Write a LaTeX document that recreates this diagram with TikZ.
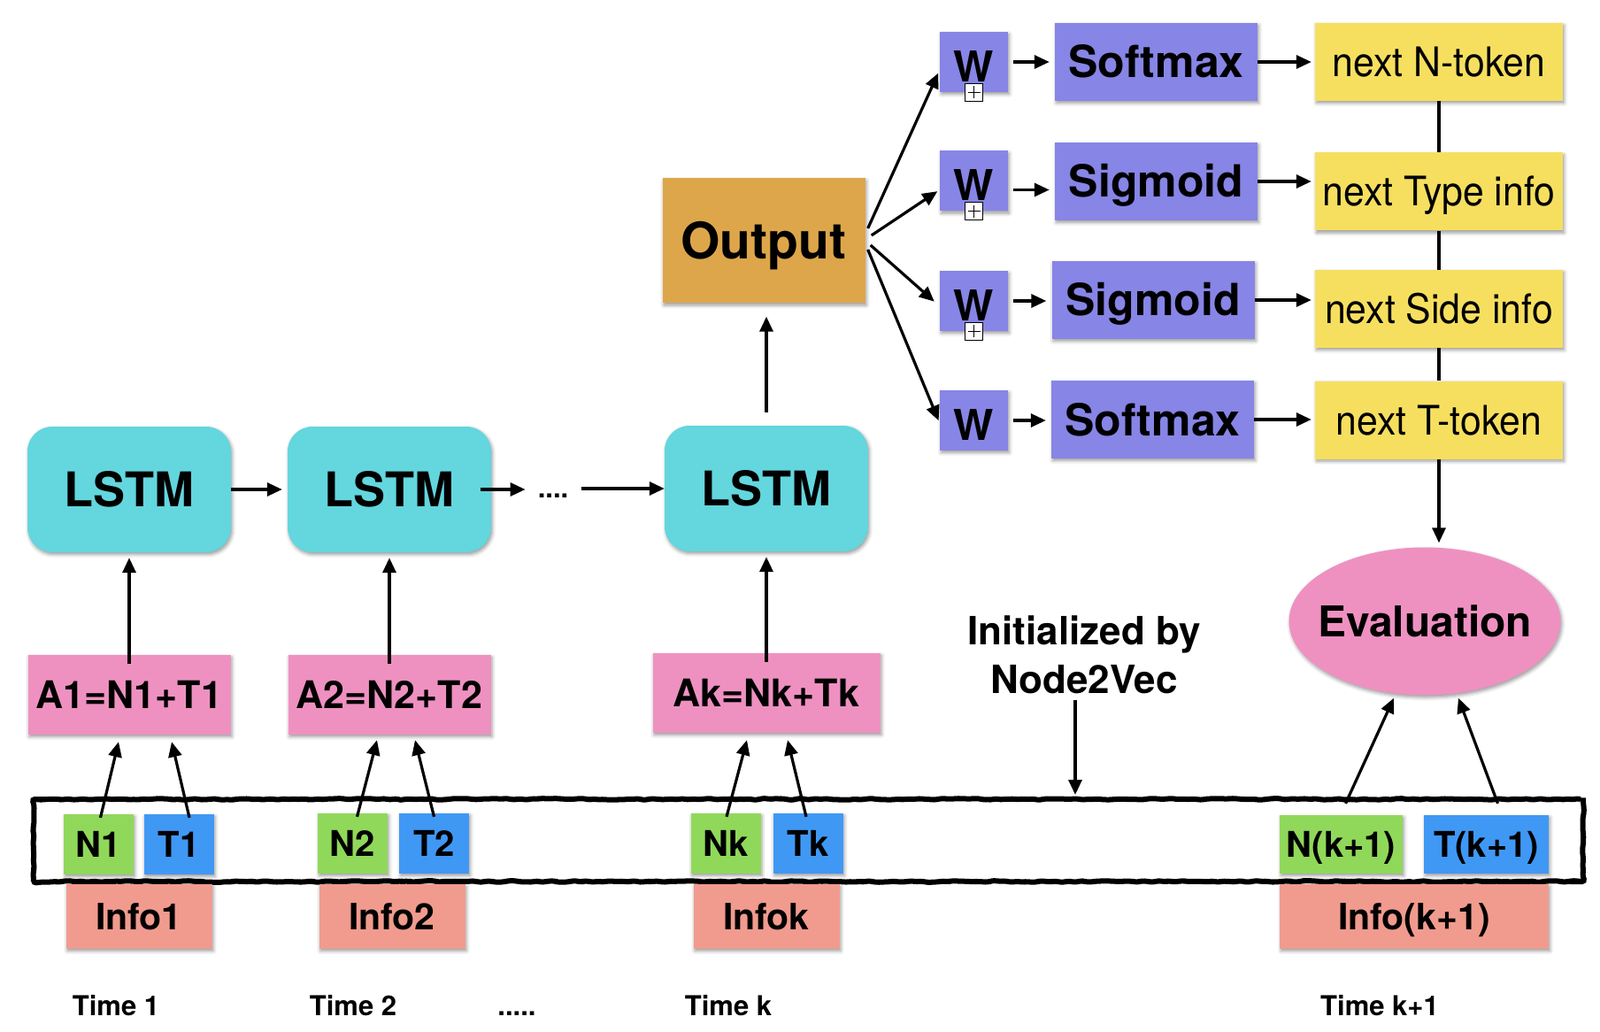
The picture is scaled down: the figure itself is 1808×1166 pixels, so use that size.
\documentclass[tikz,border=0pt]{standalone}
\usepackage{fontspec}
\setmainfont{TeX Gyre Heros}
\newfontfamily\nextfont[FakeStretch=0.93]{TeX Gyre Heros}
\usetikzlibrary{arrows.meta,shapes.geometric,shadows.blur,decorations.pathmorphing}

\definecolor{lstmcyan}{RGB}{99,214,222}
\definecolor{outorange}{RGB}{222,166,75}
\definecolor{actpurple}{RGB}{135,133,230}
\definecolor{nextyellow}{RGB}{246,223,95}
\definecolor{sumpink}{RGB}{238,145,193}
\definecolor{ngreen}{RGB}{144,216,90}
\definecolor{tblue}{RGB}{64,152,245}
\definecolor{infosalmon}{RGB}{240,155,142}

\newcommand\fsz[1]{\fontsize{#1}{#1}\selectfont}

\begin{document}
\begin{tikzpicture}[x=1pt,y=1pt,
  box/.style={inner sep=0pt, text depth=0pt,
    blur shadow={shadow xshift=1.5pt, shadow yshift=-2.5pt, shadow blur radius=4pt, shadow opacity=40}},
  lstm/.style={box, fill=lstmcyan, rounded corners=28pt, minimum width=230pt, minimum height=142pt, text height=39pt, font=\fsz{54}\bfseries},
  outbox/.style={box, fill=outorange, minimum width=229pt, minimum height=141pt, text height=41pt, font=\fsz{57}\bfseries},
  sumbox/.style={box, fill=sumpink, minimum width=229pt, minimum height=90pt, text height=31pt, font=\fsz{43}\bfseries},
  wbox/.style={box, fill=actpurple, minimum width=77pt, minimum height=68pt, text height=44.5pt, font=\fsz{48}\bfseries},
  actbox/.style={box, fill=actpurple, minimum width=229pt, minimum height=88pt, text height=36pt, font=\fsz{50}\bfseries},
  nextbox/.style={box, fill=nextyellow, minimum width=280pt, minimum height=88pt, text height=33pt, font=\nextfont\fsz{46}},
  tok/.style={box, minimum width=79pt, minimum height=68pt, text height=29pt, font=\fsz{40}\bfseries},
  infobox/.style={box, fill=infosalmon, minimum width=165pt, minimum height=73pt, text height=29.5pt, font=\fsz{41}\bfseries},
  plusbox/.style={draw, fill=white, line width=1.2pt, minimum size=20pt, inner sep=0pt,
    path picture={
      \draw[line width=1.2pt] ([yshift=-3pt]path picture bounding box.north) -- ([yshift=3pt]path picture bounding box.south);
      \draw[line width=1.2pt] ([xshift=3pt]path picture bounding box.west) -- ([xshift=-3pt]path picture bounding box.east);}},
  timelbl/.style={anchor=base, font=\fsz{31}\bfseries},
  arr/.style={line width=3.2pt, -{Triangle[length=17pt,width=15pt]}},
  link/.style={line width=3.2pt},
]
\useasboundingbox (0,0) rectangle (1808,-1166);

% hand drawn band round the inputs
\node[draw, line width=6pt, minimum width=1751pt, minimum height=93pt, rounded corners=3pt,
  decorate, decoration={random steps, segment length=5pt, amplitude=0.9pt}] (band) at (913.5,-949.5) {};

% recurrent part
\node[lstm] (lstm1) at (146,-553) {LSTM};
\node[lstm] (lstm2) at (440,-553) {LSTM};
\node[lstm] (lstm3) at (866,-552) {LSTM};
\node[font=\fsz{31}\bfseries, inner sep=0pt, anchor=base] (dots) at (625,-562) {....};
\node[outbox] (out) at (863,-272) {Output};

\node[sumbox] (a1) at (146,-785) {A1=N1+T1};
\node[sumbox] (a2) at (440,-785) {A2=N2+T2};
\node[sumbox, minimum width=257pt] (ak) at (866,-783) {Ak=Nk+Tk};

% inputs
\node[tok, fill=ngreen] (n1) at (111.5,-954) {N1};
\node[tok, fill=tblue] (t1) at (202,-954) {T1};
\node[tok, fill=ngreen] (n2) at (398.5,-953) {N2};
\node[tok, fill=tblue] (t2) at (490.5,-953) {T2};
\node[tok, fill=ngreen] (nk) at (820,-953) {Nk};
\node[tok, fill=tblue] (tk) at (913,-953) {Tk};
\node[tok, fill=ngreen, minimum width=139pt, minimum height=66pt] (nk1) at (1515.5,-954) {N(k+1)};
\node[tok, fill=tblue, minimum width=141pt, minimum height=66pt] (tk1) at (1679.5,-954) {T(k+1)};

\node[infobox] (info1) at (157,-1035.5) {Info1};
\node[infobox] (info2) at (443,-1035.5) {Info2};
\node[infobox] (infok) at (866,-1035.5) {Infok};
\node[infobox, minimum width=304pt] (infok1) at (1598,-1035.5) {Info(k+1)};

\node[timelbl] (time1) at (131,-1147) {Time 1};
\node[timelbl] (time2) at (399,-1147) {Time 2};
\node[timelbl] (timedots) at (584,-1147) {.....};
\node[timelbl] (timek) at (823,-1147) {Time k};
\node[timelbl] (timek1) at (1559,-1147) {Time k+1};

% output heads
\foreach \y [count=\i] in {70,204.5,340,475}
  \node[wbox] (w\i) at (1100.5,-\y) {W};
\foreach \i in {1,2,3}
  \node[plusbox] (p\i) at (w\i.south) {};
\node[actbox] (soft1) at (1306.5,-70) {Softmax};
\node[actbox] (sig1) at (1306.5,-205) {Sigmoid};
\node[actbox] (sig2) at (1303,-339) {Sigmoid};
\node[actbox] (soft2) at (1302.5,-474) {Softmax};
\foreach \y/\t [count=\i] in {70/next N-token, 216.5/next Type info, 349/next Side info, 474.5/next T-token}
  \node[nextbox] (next\i) at (1626,-\y) {\t};

\node[box, ellipse, fill=sumpink, minimum width=307pt, minimum height=167pt, text height=34.5pt, font=\fsz{48}\bfseries] (eval) at (1610,-702) {\makebox[0pt]{Evaluation}};
\node[align=center, inner sep=0pt, font=\fontsize{44}{55}\selectfont\bfseries] (init) at (1225,-740) {Initialized by\\Node2Vec};

% connectors
\draw[arr, shorten >=6pt] (lstm1) -- (lstm2);
\draw[arr, shorten <=-12pt, shorten >=14pt] (lstm2.east) -- (lstm2.east -| dots.west);
\draw[arr, shorten <=15pt] (dots.east |- lstm3.west) -- (lstm3.west);
\foreach \a/\l in {a1/lstm1, a2/lstm2, ak/lstm3}
  \draw[arr, shorten >=6pt] ([yshift=-10pt]\a.north) -- (\a.north |- \l.south);
\draw[arr, shorten <=15pt, shorten >=15pt] (lstm3.north) -- (lstm3.north |- out.south);

\foreach \s/\sx/\d/\dx/\dy in {n1/2/a1/-12/-8, t1/12/a1/48/-8, n2/5/a2/-14/-6, t2/0/a2/29/-6, nk/1/ak/-22/-8, tk/-2/ak/24/-8}
  \draw[arr] ([xshift=\sx pt,yshift=-4pt]\s.north) -- ([xshift=\dx pt,yshift=\dy pt]\d.south);

\draw[arr, shorten >=4pt] ([xshift=3pt,yshift=14pt]out.east) -- ([yshift=-9pt]w1.west);
\draw[arr, shorten >=3pt] ([xshift=7pt,yshift=6pt]out.east) -- ([yshift=-10pt]w2.west);
\draw[arr, shorten >=8pt] ([xshift=6pt,yshift=-5pt]out.east) -- ([yshift=-6pt]w3.west);
\draw[arr, shorten >=3pt] ([xshift=3pt,yshift=-10pt]out.east) -- ([yshift=-3pt]w4.west);

\draw[arr, shorten <=6pt, shorten >=6pt] (w1) -- (soft1);
\draw[arr, shorten <=6pt, shorten >=6pt] ([yshift=-10pt]w2.east) -- ([yshift=-10pt]w2.east -| sig1.west);
\draw[arr, shorten <=6pt, shorten >=6pt] (w3.east) -- (w3.east -| sig2.west);
\draw[arr, shorten <=6pt, shorten >=6pt] (w4.east) -- (w4.east -| soft2.west);
\draw[arr, shorten >=4pt] (soft1) -- (next1);
\draw[arr, shorten >=4pt] (sig1.east) -- (sig1.east -| next2.west);
\draw[arr, shorten >=4pt] (sig2.east) -- (sig2.east -| next3.west);
\draw[arr, shorten >=4pt] (soft2.east) -- (soft2.east -| next4.west);

\foreach \i/\j in {1/2, 2/3, 3/4}
  \draw[link] (next\i.south) -- (next\j.north);
\draw[arr, shorten >=5pt] (next4.south) -- (next4.south |- eval.north);

\draw[arr] ([xshift=5pt,yshift=13pt]nk1.north) -- ([xshift=-35pt,yshift=-3pt]eval.south);
\draw[arr] ([xshift=13pt,yshift=13pt]tk1.north) -- ([xshift=38pt,yshift=-3pt]eval.south);

\draw[arr, shorten <=7pt, shorten >=2pt] ([xshift=-10pt]init.south) -- ([xshift=-10pt]init.south |- band.north);
\end{tikzpicture}
\end{document}
